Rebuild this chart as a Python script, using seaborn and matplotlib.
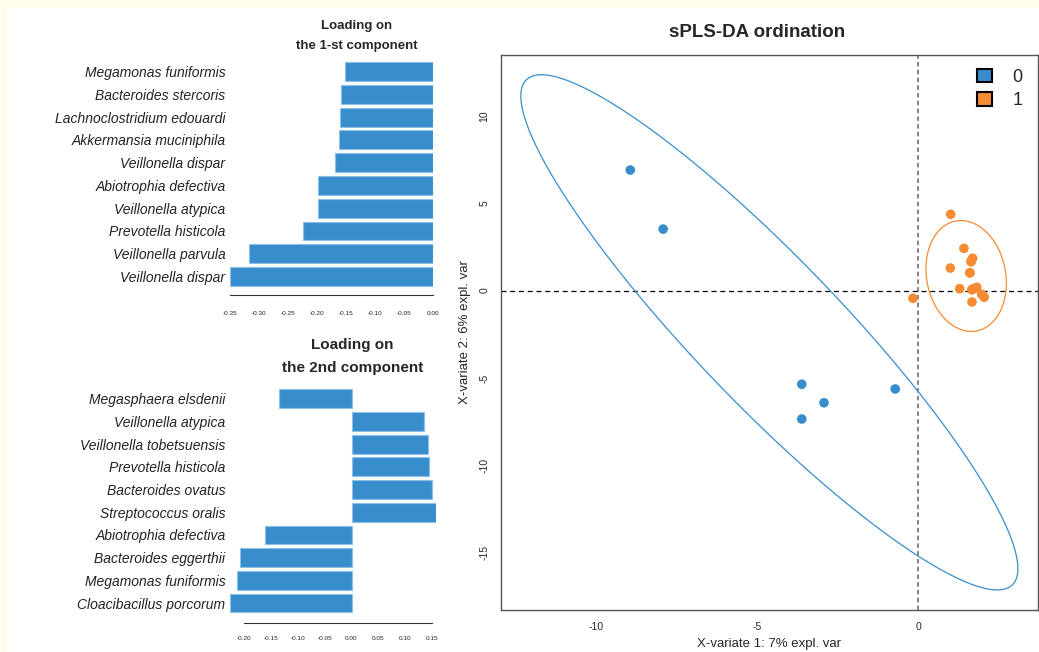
import numpy as np
import pandas as pd
import matplotlib
matplotlib.use("Agg")
import matplotlib.pyplot as plt
from matplotlib.patches import Patch, Rectangle
import seaborn as sns

# ---------------- data ----------------
names1 = ["Megamonas funiformis", "Bacteroides stercoris", "Lachnoclostridium edouardi",
          "Akkermansia muciniphila", "Veillonella dispar", "Abiotrophia defectiva",
          "Veillonella atypica", "Prevotella histicola", "Veillonella parvula",
          "Veillonella dispar"]
load1 = [-0.153, -0.159, -0.161, -0.162, -0.170, -0.199, -0.199, -0.225, -0.317, -0.350]
ticks1 = [-0.35, -0.30, -0.25, -0.20, -0.15, -0.10, -0.05, 0.00]

names2 = ["Megasphaera elsdenii", "Veillonella atypica", "Veillonella tobetsuensis",
          "Prevotella histicola", "Bacteroides ovatus", "Streptococcus oralis",
          "Abiotrophia defectiva", "Bacteroides eggerthii", "Megamonas funiformis",
          "Cloacibacillus porcorum"]
load2 = [-0.136, 0.136, 0.142, 0.145, 0.151, 0.157, -0.161, -0.208, -0.213, -0.226]
ticks2 = [-0.20, -0.15, -0.10, -0.05, 0.00, 0.05, 0.10, 0.15]

grp0_x = [-8.94, -7.92, -3.62, -2.93, -3.62, -0.72]
grp0_y = [6.90, 3.52, -5.36, -6.42, -7.35, -5.63]
# group 1 (some samples overlap inside the cluster)
grp1_x = [1.00, 1.41, 1.68, 1.63, 0.99, 1.59, 1.28, 1.67, 1.81, 1.96, 2.04, 1.66, -0.17,
          1.65, 1.60, 1.70, 1.66]
grp1_y = [4.37, 2.42, 1.85, 1.65, 1.29, 1.02, 0.11, 0.07, 0.19, -0.21, -0.38, -0.65, -0.44,
          1.75, 1.02, 0.10, 0.05]
groups = ["0", "1"]
xticks_sc = [-10, -5, 0]
yticks_sc = [10, 5, 0, -5, -10, -15]

BLUE = "#388ECC"
ORANGE = "#F68B33"

sns.set_style("white")
plt.rcParams["font.family"] = ["Liberation Sans", "DejaVu Sans"]
plt.rcParams["axes.unicode_minus"] = False

W, H = 1039, 652
fig = plt.figure(figsize=(W / 100, H / 100), dpi=100)
fig.patch.set_facecolor("#FFFCEB")
fig.patches.append(Rectangle((7 / W, 0), 1, 1 - 8 / H, transform=fig.transFigure,
                             facecolor="white", edgecolor="none", zorder=-10))


def px_axes(l, t, r, b):
    return fig.add_axes([l / W, 1 - b / H, (r - l) / W, (b - t) / H])


def loading_panel(ax, names, vals, ticks, xlim, ylim_bottom, lpad):
    keys = [f"k{i}" for i in range(len(names))]
    df = pd.DataFrame({"key": keys, "val": vals})
    sns.barplot(data=df, x="val", y="key", orient="h", color=BLUE, saturation=1,
                width=0.83, edgecolor="#8CC0E8", linewidth=0.8, ax=ax)
    ax.set_facecolor("none")
    ax.set_xlim(*xlim)
    ax.set_ylim(ylim_bottom, -0.5)
    ax.set_yticks(range(len(names)))
    ax.set_yticklabels(names, fontstyle="italic", fontsize=10, color="#222222")
    ax.tick_params(axis="y", length=0, pad=3.5)
    ax.set_xticks(ticks)
    ax.set_xticklabels([f"{t:.2f}" for t in ticks], fontsize=4.6, color="#222222")
    ax.tick_params(axis="x", length=3.5, width=0.8, color="#333333", pad=lpad,
                   direction="out")
    ax.set_xlabel("")
    ax.set_ylabel("")
    for s in ["top", "right", "left"]:
        ax.spines[s].set_visible(False)
    ax.spines["bottom"].set_bounds(ticks[0], ticks[-1])
    ax.spines["bottom"].set_color("#333333")
    ax.spines["bottom"].set_linewidth(0.8)


ax1 = px_axes(230.3, 60.1, 433.3, 295)
loading_panel(ax1, names1, load1, ticks1, (-0.35, 0.0), 9.81, 8.0)
ax2 = px_axes(230.3, 387.45, 435.7, 623)
loading_panel(ax2, names2, load2, ticks2, (-0.226, 0.157), 9.88, 6.0)

fig.text(356.7 / W, 1 - 26.5 / H, "Loading on", ha="center", va="center",
         fontsize=9.5, fontweight="bold")
fig.text(356.7 / W, 1 - 46.5 / H, "the 1-st component", ha="center", va="center",
         fontsize=9.5, fontweight="bold")
fig.text(352.3 / W, 1 - 344.5 / H, "Loading on", ha="center", va="center",
         fontsize=11, fontweight="bold")
fig.text(352.3 / W, 1 - 368.2 / H, "the 2nd component", ha="center", va="center",
         fontsize=11, fontweight="bold")

# ---------------- ordination ----------------
ax3 = px_axes(500.7, 54.7, 1037.7, 610)
sc = pd.DataFrame({
    "x": grp0_x + grp1_x,
    "y": grp0_y + grp1_y,
    "g": [groups[0]] * len(grp0_x) + [groups[1]] * len(grp1_x),
})
sns.scatterplot(data=sc, x="x", y="y", hue="g", palette={"0": BLUE, "1": ORANGE},
                s=48, edgecolor="none", linewidth=0, legend=False, ax=ax3, zorder=3)

tlev = np.sqrt(-2 * np.log(1 - 0.95))
theta = np.linspace(0, 2 * np.pi, 400)
for g, col in zip(groups, [BLUE, ORANGE]):
    pts = sc.loc[sc.g == g, ["x", "y"]].to_numpy()
    mu = pts.mean(axis=0)
    cov = np.cov(pts.T)
    ev, evec = np.linalg.eigh(cov)
    circ = np.vstack([np.cos(theta), np.sin(theta)])
    ell = (evec @ (np.sqrt(ev)[:, None] * circ)) * tlev + mu[:, None]
    ax3.plot(ell[0], ell[1], color=col, lw=0.9, zorder=2)

ax3.axvline(0, color="#7a7a7a", lw=1.3, ls=(0, (2.5, 1.8)), zorder=1)
ax3.axhline(0, color="black", lw=0.9, ls=(0, (4, 3)), zorder=1)
ax3.set_xlim(-12.96, 3.70)
ax3.set_ylim(-18.28, 13.5)
ax3.set_xticks(xticks_sc)
ax3.set_xticklabels([str(v) for v in xticks_sc], fontsize=7.5)
ax3.set_yticks(yticks_sc)
ax3.set_yticklabels([str(v) for v in yticks_sc], fontsize=7.5, rotation=90, va="center")
ax3.tick_params(axis="both", length=3.6, width=0.8, color="#444444", direction="out")
ax3.tick_params(axis="x", pad=5.0)
ax3.tick_params(axis="y", pad=4.5)
for s in ax3.spines.values():
    s.set_visible(True)
    s.set_color("#555555")
    s.set_linewidth(1.0)
ax3.set_xlabel("X-variate 1: 7% expl. var", fontsize=9.5, labelpad=4.5)
ax3.set_ylabel("X-variate 2: 6% expl. var", fontsize=9.5, labelpad=6)
fig.text(757 / W, 1 - 32.5 / H, "sPLS-DA ordination", ha="center", va="center",
         fontsize=13.5, fontweight="bold")

handles = [Patch(facecolor=BLUE, edgecolor="black", linewidth=1.5),
           Patch(facecolor=ORANGE, edgecolor="black", linewidth=1.5)]
ax3.legend(handles, groups, loc="upper right", bbox_to_anchor=(0.995, 0.997),
           frameon=False, fontsize=13, handlelength=0.85, handleheight=0.75,
           handletextpad=1.1, labelspacing=0.35, borderpad=0.2)

fig.savefig("out.png", dpi=100, facecolor=fig.get_facecolor())
